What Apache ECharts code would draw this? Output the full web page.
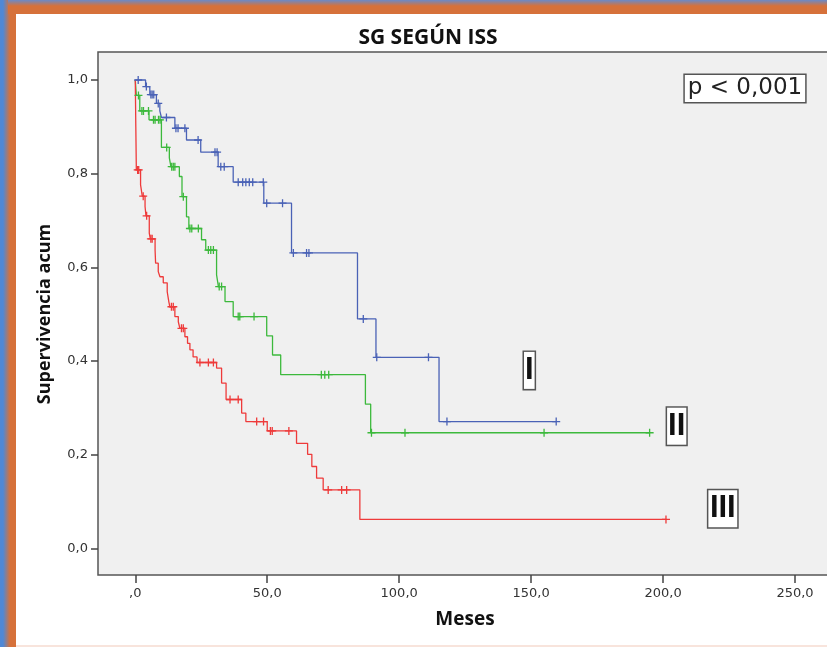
<!DOCTYPE html>
<html>
<head>
<meta charset="utf-8">
<script src="https://cdn.jsdelivr.net/npm/echarts@6/dist/echarts.min.js"></script>
<style>
  html, body { margin:0; padding:0; width:827px; height:647px; overflow:hidden; background:#d6713a; position:relative; }
  #lstrip { position:absolute; left:0; top:0; width:16px; height:647px;
    background: linear-gradient(to right, #4f88d6 0px, #4f88d6 3px, #d6713a 10px, #d6713a 16px); }
  #tstrip { position:absolute; left:8px; top:0; width:819px; height:14px;
    background: linear-gradient(to bottom, #6a8ac8 0px, #d6713a 6px, #d6713a 14px); }
  #white { position:absolute; left:16px; top:14px; width:811px; height:631px; background:#ffffff; }
  #peach { position:absolute; left:16px; top:645px; width:811px; height:2px; background:#f8e4dc; }
  #chart { position:absolute; left:0; top:0; width:900px; height:647px; }
</style>
</head>
<body>
<div id="lstrip"></div>
<div id="tstrip"></div>
<div id="white"></div>
<div id="peach"></div>
<div id="chart"></div>
<script>
// ---- Data ----
const xTicks = [0, 50, 100, 150, 200, 250];
const yTicks = [0, 0.2, 0.4, 0.6, 0.8, 1.0];

// ISS I (blue): event times (months) and survival after each step
const blueT = [0, 3.9, 5.5, 8.0, 9.3, 9.9, 15.0, 19.4, 24.8, 31.4, 37.1, 48.7, 59.2, 84.2, 91.2, 115.1, 159.5];
const blueS = [1, 0.986, 0.969, 0.950, 0.934, 0.920, 0.897, 0.872, 0.846, 0.815, 0.782, 0.737, 0.631, 0.490, 0.408, 0.271, 0.271];
const blueCensor = [1.1, 4.2, 5.9, 6.4, 7.0, 8.7, 11.8, 15.4, 16.2, 18.8, 23.8, 30.2, 31.0, 32.4, 33.7, 39.0, 40.7, 41.9, 43.2, 44.5, 48.5, 49.8, 55.8, 59.9, 64.9, 65.8, 86.4, 91.5, 111.1, 118.1, 159.5];

// ISS II (green)
const greenT = [0, 0.4, 1.7, 5.2, 9.9, 12.9, 13.5, 16.7, 17.7, 19.4, 20.3, 25.1, 26.7, 30.8, 31.5, 34.0, 37.1, 49.8, 52.0, 55.1, 87.2, 89.2, 194.9];
const greenS = [1, 0.967, 0.934, 0.915, 0.856, 0.834, 0.815, 0.794, 0.751, 0.708, 0.683, 0.659, 0.637, 0.584, 0.559, 0.527, 0.495, 0.454, 0.413, 0.371, 0.308, 0.247, 0.247];
const greenCensor = [1.2, 2.5, 3.1, 5.0, 6.9, 7.5, 8.8, 9.4, 11.9, 13.8, 14.4, 15.0, 18.2, 20.7, 21.4, 23.9, 27.7, 28.6, 29.6, 31.8, 32.7, 39.0, 39.6, 45.0, 70.5, 71.8, 73.3, 89.5, 102.2, 154.9, 194.9];

// ISS III (red)
const redT = [0, 0.2, 0.4, 2.0, 2.65, 3.7, 4.05, 5.3, 5.7, 7.5, 7.7, 8.7, 9.35, 10.6, 12.1, 12.7, 13.1, 15.0, 16.3, 16.9, 18.8, 19.8, 20.7, 21.9, 23.4, 30.8, 32.7, 34.4, 40.3, 41.9, 50.0, 61.1, 65.3, 66.9, 68.7, 71.2, 85.1, 201.1];
const redS = [1, 0.90, 0.808, 0.776, 0.752, 0.730, 0.710, 0.673, 0.661, 0.637, 0.609, 0.591, 0.580, 0.567, 0.548, 0.527, 0.516, 0.495, 0.484, 0.470, 0.452, 0.438, 0.424, 0.409, 0.397, 0.385, 0.353, 0.318, 0.289, 0.271, 0.251, 0.2245, 0.201, 0.175, 0.150, 0.125, 0.062, 0.062];
const redCensor = [0.9, 1.3, 3.0, 4.3, 5.9, 6.4, 13.7, 14.4, 17.5, 18.2, 24.5, 27.7, 29.6, 35.9, 39.0, 46.0, 48.6, 51.2, 51.9, 58.2, 73.1, 78.2, 80.1, 201.1];

const groupLabels = ['I', 'II', 'III'];
const pText = 'p < 0,001';

// ---- Build ----
function pairs(T, S) { return T.map((t, i) => [t, S[i]]); }
function survAt(T, S, t) {
  let s = S[0];
  for (let i = 0; i < T.length; i++) { if (T[i] <= t) s = S[i]; else break; }
  return s;
}
function censorPts(T, S, C) { return C.map(t => [t, survAt(T, S, t)]); }

const plus = 'path://M4,0L4,8M0,4L8,4';
const groups = [
  { name: 'I', T: blueT, S: blueS, C: blueCensor, color: '#4a62b6' },
  { name: 'II', T: greenT, S: greenS, C: greenCensor, color: '#3cb93c' },
  { name: 'III', T: redT, S: redS, C: redCensor, color: '#ee3a3a' }
];
const series = [];
groups.forEach(g => {
  series.push({
    type: 'line', name: g.name, step: 'end', data: pairs(g.T, g.S),
    showSymbol: false, symbol: 'none', silent: true, z: 3,
    lineStyle: { color: g.color, width: 1.3 }
  });
  series.push({
    type: 'scatter', name: g.name + ' censor', data: censorPts(g.T, g.S, g.C),
    symbol: plus, symbolSize: [8, 8], silent: true, z: 4,
    itemStyle: { color: 'transparent', borderColor: g.color, borderWidth: 1.3, opacity: 1 }
  });
});

const fmtX = v => (v === 0 ? ',0' : v.toFixed(1).replace('.', ','));
const fmtY = v => v.toFixed(1).replace('.', ',');

const chart = echarts.init(document.getElementById('chart'), null, { renderer: 'canvas' });
chart.setOption({
  backgroundColor: 'transparent',
  animation: false,
  grid: {
    left: 98, top: 52, width: 763, height: 523,
    show: true, backgroundColor: '#f0f0f0', borderColor: '#555555', borderWidth: 1.5
  },
  xAxis: {
    type: 'value', min: -14.13, max: 275,
    axisLine: { show: false, onZero: false },
    splitLine: { show: false },
    axisTick: { show: true, customValues: xTicks, length: 8, lineStyle: { color: '#444', width: 1.5 } },
    axisLabel: { customValues: xTicks, formatter: fmtX, margin: 12, color: '#333',
      fontFamily: 'DejaVu Sans', fontSize: 13 }
  },
  yAxis: {
    type: 'value', min: -0.0566, max: 1.0598,
    axisLine: { show: false, onZero: false },
    splitLine: { show: false },
    axisTick: { show: true, customValues: yTicks, length: 7, lineStyle: { color: '#444', width: 1.5 } },
    axisLabel: { customValues: yTicks, formatter: fmtY, margin: 10, color: '#333',
      fontFamily: 'DejaVu Sans', fontSize: 13 }
  },
  series: series,
  graphic: [
    { type: 'text', x: 428, y: 38, z: 10,
      style: { text: 'SG SEGÚN ISS', align: 'center', verticalAlign: 'middle',
        font: 'bold 21px "Open Sans"', fill: '#111' } },
    { type: 'text', x: 465, y: 620, z: 10,
      style: { text: 'Meses', align: 'center', verticalAlign: 'middle',
        font: 'bold 19px "Open Sans"', fill: '#111' } },
    { type: 'text', x: 45, y: 314, rotation: Math.PI / 2, z: 10,
      style: { text: 'Supervivencia acum', align: 'center', verticalAlign: 'middle',
        font: 'bold 18px "Open Sans"', fill: '#111' } },
    { type: 'text', x: 745, y: 88.5, z: 10,
      style: { text: pText, align: 'center', verticalAlign: 'middle',
        font: '23px "DejaVu Sans"', fill: '#222', lineHeight: 25,
        backgroundColor: '#ffffff', borderColor: '#555', borderWidth: 1.5, padding: [1, 3, 1, 3] } },
    { type: 'text', x: 529.3, y: 370.4, z: 10,
      style: { text: groupLabels[0], align: 'center', verticalAlign: 'middle',
        font: 'bold 31px "Liberation Sans"', fill: '#111', lineHeight: 31,
        backgroundColor: '#ffffff', borderColor: '#555', borderWidth: 1.5, padding: [3, 1, 3, 1] } },
    { type: 'text', x: 676.7, y: 426.2, z: 10,
      style: { text: groupLabels[1], align: 'center', verticalAlign: 'middle',
        font: 'bold 31px "Liberation Sans"', fill: '#111', lineHeight: 31,
        backgroundColor: '#ffffff', borderColor: '#555', borderWidth: 1.5, padding: [3, 1, 3, 1] } },
    { type: 'text', x: 722.8, y: 508.7, z: 10,
      style: { text: groupLabels[2], align: 'center', verticalAlign: 'middle',
        font: 'bold 31px "Liberation Sans"', fill: '#111', lineHeight: 31,
        backgroundColor: '#ffffff', borderColor: '#555', borderWidth: 1.5, padding: [3, 1.5, 3, 1.5] } }
  ]
});
</script>
</body>
</html>
